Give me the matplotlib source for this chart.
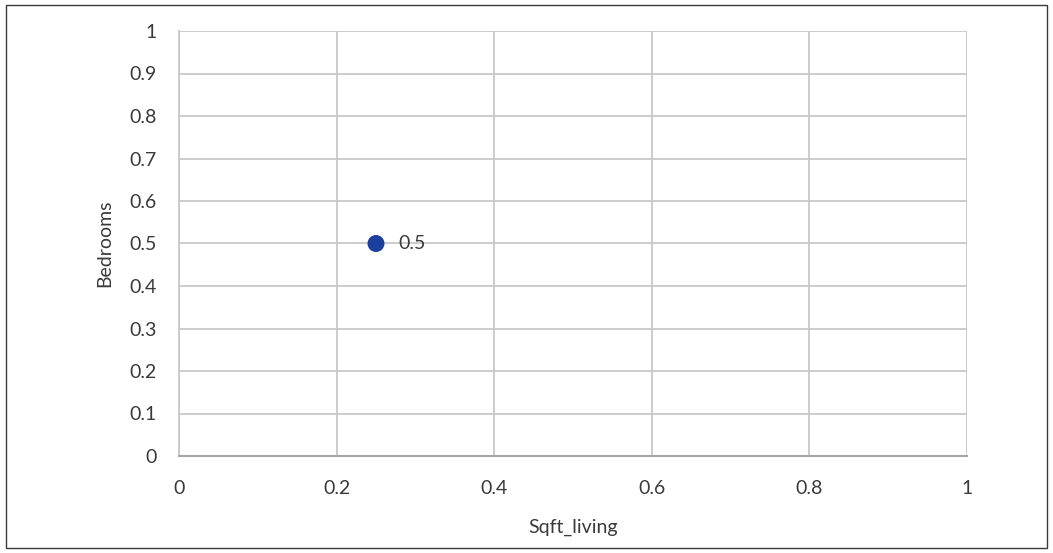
import matplotlib
matplotlib.use("Agg")
import matplotlib.pyplot as plt
from matplotlib.patches import Rectangle
from matplotlib.ticker import MultipleLocator, FuncFormatter

x_vals = [0.25]
y_vals = [0.5]
point_labels = ["0.5"]
x_label = "Sqft_living"
y_label = "Bedrooms"

plt.rcParams['font.family'] = ['Lato', 'DejaVu Sans']
TXT = '#3a3a3a'

fig = plt.figure(figsize=(10.53, 5.53), dpi=100)
fig.patches.append(Rectangle((6/1053, 1 - 548/553), 1041/1053, 543/553,
                             transform=fig.transFigure, fill=False,
                             edgecolor='#3a3a3a', linewidth=1.0))
ax = fig.add_axes([179/1053, 1 - 456/553, 788/1053, 425/553])

ax.scatter(x_vals, y_vals, s=150, color='#1C3F9E', zorder=3, edgecolors='none')
for xv, yv, lab in zip(x_vals, y_vals, point_labels):
    ax.annotate(lab, (xv, yv), xytext=(16, 0), textcoords='offset points',
                va='center', ha='left', fontsize=14, color=TXT)

ax.set_xlim(0, 1)
ax.set_ylim(0, 1)
ax.xaxis.set_major_locator(MultipleLocator(0.2))
ax.yaxis.set_major_locator(MultipleLocator(0.1))
fmt = FuncFormatter(lambda v, p: ('%g' % round(v, 2)))
ax.xaxis.set_major_formatter(fmt)
ax.yaxis.set_major_formatter(fmt)
ax.grid(True, color='#C8C8C8', linewidth=1.3)
ax.set_axisbelow(True)
for s in ['top', 'right']:
    ax.spines[s].set_visible(False)
ax.spines['left'].set_color('#C8C8C8')
ax.spines['left'].set_linewidth(1.3)
ax.spines['bottom'].set_color('#A6A6A6')
ax.spines['bottom'].set_linewidth(1.5)
ax.tick_params(length=0, labelsize=14, labelcolor=TXT)
ax.tick_params(axis='x', pad=17)
ax.tick_params(axis='y', pad=16)
ax.set_xlabel(x_label, fontsize=14, color=TXT, va='center')
ax.set_ylabel(y_label, fontsize=14, color=TXT, va='center')
ax.xaxis.set_label_coords(0.5, -(527 - 456) / 425)
ax.yaxis.set_label_coords((105 - 179) / 788, 0.5)

fig.savefig("out.png", dpi=100)
